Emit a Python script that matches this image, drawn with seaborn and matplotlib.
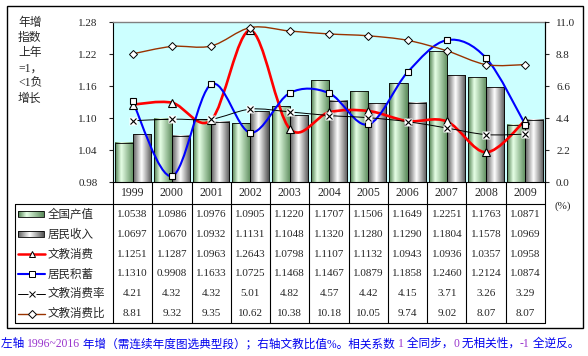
import numpy as np
import pandas as pd
import matplotlib
matplotlib.use("Agg")
import matplotlib.pyplot as plt
import seaborn as sns
from matplotlib.path import Path
from matplotlib.patches import PathPatch, Rectangle
from matplotlib.colors import LinearSegmentedColormap
from matplotlib.ticker import FormatStrFormatter

# ---------------- data ----------------
years = [str(y) for y in range(1999, 2010)]
gdp = [1.0538, 1.0986, 1.0976, 1.0905, 1.1220, 1.1707, 1.1506, 1.1649, 1.2251, 1.1763, 1.0871]
income = [1.0697, 1.0670, 1.0932, 1.1131, 1.1048, 1.1320, 1.1280, 1.1290, 1.1804, 1.1578, 1.0969]
edu_spend = [1.1251, 1.1287, 1.0963, 1.2643, 1.0798, 1.1107, 1.1132, 1.0943, 1.0936, 1.0357, 1.0958]
savings = [1.1310, 0.9908, 1.1633, 1.0725, 1.1468, 1.1467, 1.0879, 1.1858, 1.2460, 1.2124, 1.0874]
edu_rate = [4.21, 4.32, 4.32, 5.01, 4.82, 4.57, 4.42, 4.15, 3.71, 3.26, 3.29]
edu_ratio = [8.81, 9.32, 9.35, 10.62, 10.38, 10.18, 10.05, 9.74, 9.02, 8.07, 8.07]
row_labels = ["全国产值", "居民收入", "文教消费", "居民积蓄", "文教消费率", "文教消费比"]
left_ticks = [0.98, 1.04, 1.10, 1.16, 1.22, 1.28]
right_ticks = [0.0, 2.2, 4.4, 6.6, 8.8, 11.0]
ylabel_lines = ["年增", "指数", "上年", "=1，", "<1负", "增长"]
caption_parts = [("左轴 ", "b"), ("1996~2016", "p"),
                 (" 年增（需连续年度图选典型段）；右轴文教比值%。相关系数 ", "b"),
                 ("1", "p"), (" 全同步，", "b"), ("0", "p"), (" 无相关性，", "b"),
                 ("-1", "p"), (" 全逆反。", "b")]

sns.set_style("white")
MIX = ["Liberation Serif", "Noto Sans CJK SC", "DejaVu Sans"]
CJK = ["Noto Sans CJK SC", "DejaVu Sans"]
plt.rcParams["font.family"] = MIX

W, H = 588, 356
L, R, T, B = 113, 545, 22, 182
fig = plt.figure(figsize=(W / 100, H / 100), dpi=100)
fig.patch.set_facecolor("white")

ax = fig.add_axes([L / W, 1 - B / H, (R - L) / W, (B - T) / H])
ax.set_facecolor("#CCFFFF")

df = pd.DataFrame({"year": years * 2, "value": gdp + income,
                   "series": ["全国产值"] * len(years) + ["居民收入"] * len(years)})
sns.barplot(data=df, x="year", y="value", hue="series", palette=["#99cc99", "#cccccc"],
            width=0.92, edgecolor="black", linewidth=0.6, ax=ax, legend=False,
            saturation=1, errorbar=None)

green_cmap = LinearSegmentedColormap.from_list("g", [(0, "#4f7f4f"), (0.33, "#e6ffe6"), (1, "#5a8a5a")])
gray_cmap = LinearSegmentedColormap.from_list("k", [(0, "#5e5e5e"), (0.45, "#ffffff"), (1, "#555555")])
grad = np.linspace(0, 1, 64).reshape(1, -1)
for cont, cmap in zip(ax.containers, [green_cmap, gray_cmap]):
    for p in cont.patches:
        x0 = p.get_x(); w = p.get_width(); top = p.get_y() + p.get_height()
        ax.imshow(grad, cmap=cmap, extent=[x0, x0 + w, 0.98, top], aspect="auto",
                  interpolation="bilinear", zorder=0.9)
        p.set_facecolor("none")


def smooth_path(xs, ys):
    pts = np.column_stack([xs, ys]).astype(float)
    n = len(pts)
    verts = [pts[0]]
    codes = [Path.MOVETO]
    for i in range(n - 1):
        p0 = pts[i - 1] if i > 0 else pts[i]
        p1 = pts[i]
        p2 = pts[i + 1]
        p3 = pts[i + 2] if i + 2 < n else pts[i + 1]
        verts += [p1 + (p2 - p0) / 6, p2 - (p3 - p1) / 6, p2]
        codes += [Path.CURVE4] * 3
    return Path(verts, codes)


xs = np.arange(len(years))
ax.add_patch(PathPatch(smooth_path(xs, edu_spend), fc="none", ec="#FF0000", lw=1.9, zorder=3))
ax.add_patch(PathPatch(smooth_path(xs, savings), fc="none", ec="#0000FF", lw=1.5, zorder=3))
ax.plot(xs, edu_spend, ls="none", marker="^", ms=5.5, mfc="white", mec="black", mew=0.8, zorder=4)
ax.plot(xs, savings, ls="none", marker="s", ms=5, mfc="white", mec="black", mew=0.8, zorder=4)

ax.set_xlim(-0.5, 10.5)
ax.set_ylim(0.98, 1.28)
ax.set_yticks(left_ticks)
ax.yaxis.set_major_formatter(FormatStrFormatter("%.2f"))
ax.set_xticks([])
ax.set_xlabel("")
ax.set_ylabel("")
ax.tick_params(axis="y", direction="out", length=3, width=0.8, pad=8, labelsize=8, left=True)
for s in ["left", "bottom", "right"]:
    ax.spines[s].set_color("black"); ax.spines[s].set_linewidth(0.8)
ax.spines["top"].set_color("#808080"); ax.spines["top"].set_linewidth(1.0)

ax2 = ax.twinx()
ax2.set_ylim(0, 11)
ax2.set_yticks(right_ticks)
ax2.yaxis.set_major_formatter(FormatStrFormatter("%.1f"))
ax2.tick_params(axis="y", direction="out", length=3, width=0.8, pad=5, labelsize=8, right=True)
for s in ["left", "bottom", "top"]:
    ax2.spines[s].set_visible(False)
ax2.spines["right"].set_color("black"); ax2.spines["right"].set_linewidth(0.8)
ax2.add_patch(PathPatch(smooth_path(xs, edu_ratio), fc="none", ec="#993300", lw=1.0, zorder=3))
ax2.add_patch(PathPatch(smooth_path(xs, edu_rate), fc="none", ec="black", lw=0.7, zorder=3))
ax2.plot(xs, edu_ratio, ls="none", marker="D", ms=4.5, mfc="white", mec="black", mew=0.7, zorder=4)
ax2.plot(xs, edu_rate, ls="none", marker="s", ms=6, mfc="white", mec="none", zorder=4)
ax2.plot(xs, edu_rate, ls="none", marker="x", ms=4.5, mec="black", mew=0.8, zorder=5)
ax2.set_xlim(-0.5, 10.5)

# ---------------- overlay: table, legend, texts ----------------
ov = fig.add_axes([0, 0, 1, 1], zorder=10)
ov.set_xlim(0, W); ov.set_ylim(H, 0); ov.axis("off")

ov.add_patch(Rectangle((7, 6), 576, 322, fc="none", ec="black", lw=1.0))
cw = (R - L) / len(years)
row_top, row_bot = 204, 323
rh = (row_bot - row_top) / 6
lc = "black"
ov.plot([15, R], [row_top, row_top], color=lc, lw=0.8)
ov.plot([15, R], [row_bot, row_bot], color=lc, lw=0.8)
ov.plot([15, 15], [row_top, row_bot], color=lc, lw=0.8)
for k in range(len(years) + 1):
    xk = L + k * cw
    ov.plot([xk, xk], [B, row_bot], color=lc, lw=0.8)
for i, y in enumerate(years):
    ov.text(L + (i + 0.5) * cw, 193, y, ha="center", va="center", fontsize=8.5, family=MIX)

rows = [gdp, income, edu_spend, savings, edu_rate, edu_ratio]
fmts = ["%.4f"] * 4 + ["%.2f"] * 2
for r, (vals, fmt) in enumerate(zip(rows, fmts)):
    yc = row_top + (r + 0.5) * rh + 0.5
    for i, v in enumerate(vals):
        ov.text(L + (i + 0.5) * cw, yc, fmt % v, ha="center", va="center", fontsize=8, family=MIX)
    ov.text(48, yc, row_labels[r], ha="left", va="center", fontsize=8.3, family=CJK)
    if r < 2:
        cmap = green_cmap if r == 0 else gray_cmap
        ov.imshow(grad, cmap=cmap, extent=[18, 44, yc + 3, yc - 3], aspect="auto",
                  interpolation="bilinear", zorder=2)
        ov.add_patch(Rectangle((18, yc - 3), 26, 6, fc="none", ec="black", lw=0.6, zorder=3))
    elif r == 2:
        ov.plot([18, 45], [yc, yc], color="#FF0000", lw=1.8)
        ov.plot([31.5], [yc], marker="^", ms=4.5, mfc="white", mec="black", mew=0.7)
    elif r == 3:
        ov.plot([18, 45], [yc, yc], color="#0000FF", lw=1.5)
        ov.plot([31.5], [yc], marker="s", ms=4, mfc="white", mec="black", mew=0.7)
    elif r == 4:
        ov.plot([18, 45], [yc, yc], color="black", lw=0.7)
        ov.plot([31.5], [yc], marker="s", ms=5.5, mfc="white", mec="none")
        ov.plot([31.5], [yc], marker="x", ms=3.8, mec="black", mew=0.7)
    else:
        ov.plot([18, 45], [yc, yc], color="#993300", lw=1.0)
        ov.plot([31.5], [yc], marker="D", ms=3.8, mfc="white", mec="black", mew=0.7)
ov.set_xlim(0, W); ov.set_ylim(H, 0)

ov.text(563, 206, "(%)", ha="center", va="center", fontsize=8, family=MIX)
for i, line in enumerate(ylabel_lines):
    ov.text(18, 23 + i * 15.2, line, ha="left", va="center", fontsize=8.5, family=MIX)

renderer = fig.canvas.get_renderer()
colors = {"b": "#0000EE", "p": "#9933CC"}
x = 1.0
for txt, c in caption_parts:
    t = ov.text(x, 344, txt, ha="left", va="center", fontsize=8.4, color=colors[c], family=MIX)
    bb = t.get_window_extent(renderer)
    x += bb.width

fig.savefig("out.png", dpi=100)
